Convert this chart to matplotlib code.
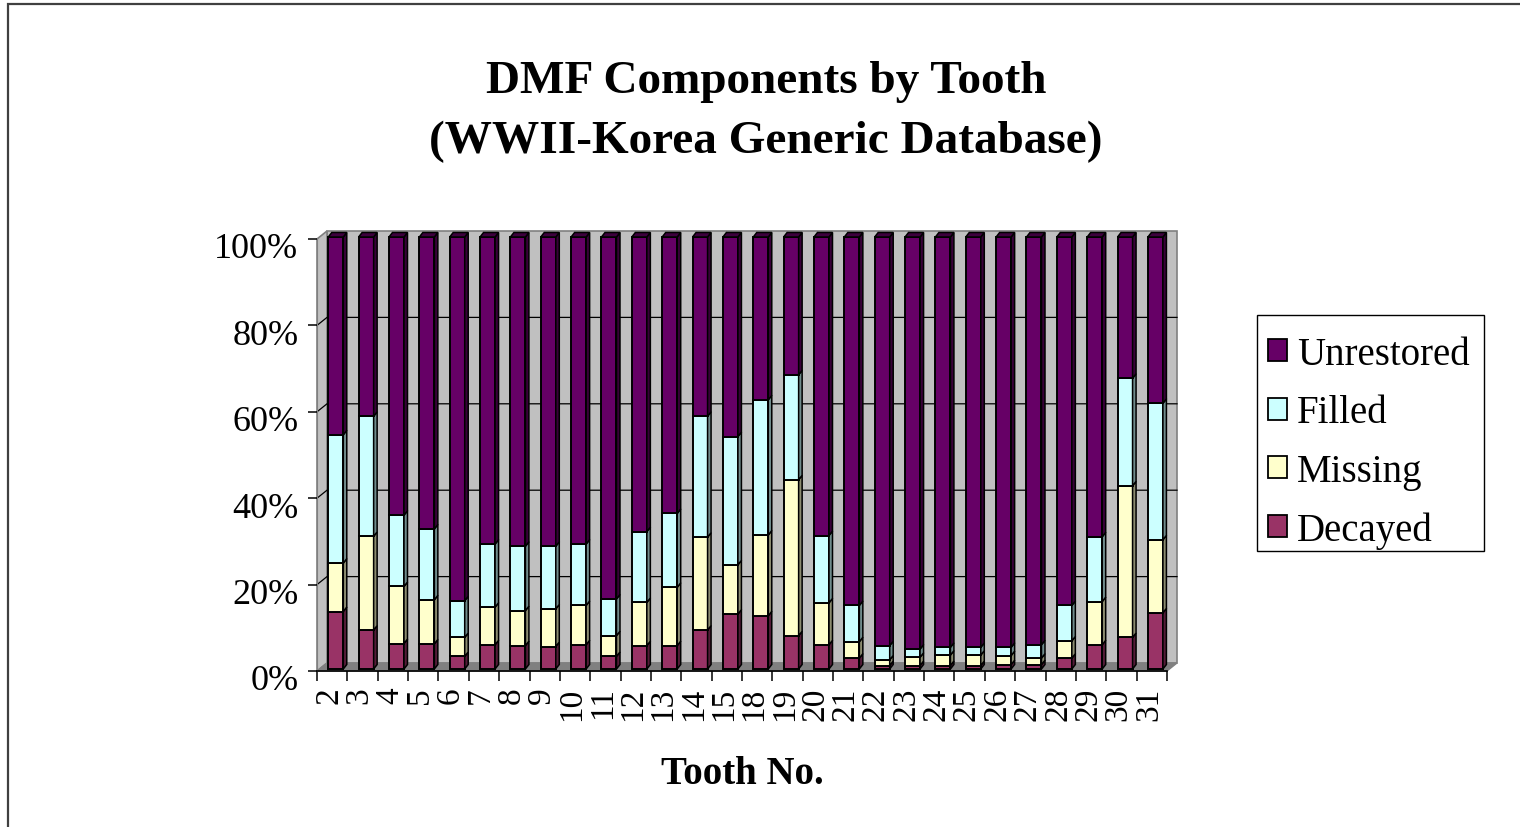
import matplotlib
matplotlib.use("Agg")
import matplotlib.pyplot as plt
import matplotlib.transforms as mtransforms
from matplotlib.patches import Polygon, Rectangle, Patch
import numpy as np

# ---- data -------------------------------------------------------------
teeth = ["2", "3", "4", "5", "6", "7", "8", "9", "10", "11", "12", "13", "14",
         "15", "18", "19", "20", "21", "22", "23", "24", "25", "26", "27", "28",
         "29", "30", "31"]
decayed = [13.3, 9.0, 5.9, 5.8, 2.9, 5.6, 5.4, 5.2, 5.6, 2.9, 5.4, 5.4, 9.0,
           12.7, 12.3, 7.7, 5.6, 2.5, 0.8, 0.8, 0.8, 0.8, 1.0, 1.0, 2.5, 5.6,
           7.3, 13.0]
missing = [11.2, 21.7, 13.2, 10.2, 4.4, 8.7, 8.1, 8.7, 9.1, 4.8, 10.0, 13.5,
           21.5, 11.4, 18.7, 36.1, 9.7, 3.8, 1.3, 1.9, 2.4, 2.4, 2.1, 1.5, 4.0,
           10.0, 35.1, 16.9]
filled = [29.7, 27.8, 16.5, 16.4, 8.5, 14.6, 14.9, 14.5, 14.2, 8.5, 16.4, 17.1,
          28.0, 29.7, 31.3, 24.3, 15.6, 8.4, 3.3, 1.9, 1.8, 1.8, 1.9, 3.1, 8.2,
          15.0, 24.9, 31.6]
unrestored = [45.8, 41.5, 64.4, 67.6, 84.2, 71.1, 71.6, 71.6, 71.1, 83.8, 68.2,
              64.0, 41.5, 46.2, 37.7, 31.9, 69.1, 85.3, 94.6, 95.4, 95.0, 95.0,
              95.0, 94.4, 85.3, 69.4, 32.7, 38.5]
series_names = ["Decayed", "Missing", "Filled", "Unrestored"]
series_colors = ["#993366", "#FFFFCC", "#CCFFFF", "#660066"]
y_ticks = [0, 20, 40, 60, 80, 100]
y_labels = ["0%", "20%", "40%", "60%", "80%", "100%"]

# ---- figure -----------------------------------------------------------
W, H = 1520, 828
fig = plt.figure(figsize=(W / 100, H / 100), dpi=100)
plt.rcParams['font.family'] = ['Liberation Serif', 'DejaVu Serif']

# outer chart border
fig.add_artist(Rectangle((8 / W, -0.5), 2.0, 0.5 + 1 - 5 / H,
                         transform=fig.transFigure, fill=False,
                         ec="#404040", lw=1.6))

# front plane of the plot area, in pixels
X0, X1 = 317, 1167
Y0, Y1 = 672, 240
ax = fig.add_axes([X0 / W, 1 - Y0 / H, (X1 - X0) / W, (Y0 - Y1) / H])
n = len(teeth)
ax.set_xlim(0, n)
ax.set_ylim(0, 100)
ax.patch.set_visible(False)
ux = (X1 - X0) / n
uy = (Y0 - Y1) / 100.0


def px(dxp, dyp):
    return dxp / ux, dyp / uy


# walls and floor of the 3-D box
wdx, wdy = px(10, 8)
wall_c, edge_c = "#C0C0C0", "#808080"
ax.add_patch(Polygon([(wdx, wdy), (n + wdx, wdy), (n + wdx, 100 + wdy),
                      (wdx, 100 + wdy)], closed=True, fc=wall_c, ec=edge_c,
                     lw=1.2, clip_on=False, zorder=0))
ax.add_patch(Polygon([(0, 0), (wdx, wdy), (wdx, 100 + wdy), (0, 100)],
                     closed=True, fc=wall_c, ec=edge_c, lw=1.2, clip_on=False,
                     zorder=0))
for v in y_ticks[1:-1]:
    ax.plot([0, wdx, n + wdx], [v, v + wdy, v + wdy], color="black", lw=0.9,
            clip_on=False, zorder=1)
ax.add_patch(Polygon([(0, 0), (n, 0), (n + wdx, wdy), (wdx, wdy)],
                     closed=True, fc="#808080", ec="#808080", lw=1.0,
                     clip_on=False, zorder=1))

# stacked 3-D columns
vals = np.array([decayed, missing, filled, unrestored], dtype=float)
pct = vals / vals.sum(axis=0) * 100
bw = 15 / ux
bx, by = px(3.6, 2)
bdx, bdy = px(3.5, 4.5)
x = np.arange(n) + 0.5 + bx
bottom = np.full(n, by)


def shade(c, f):
    rgb = np.array(matplotlib.colors.to_rgb(c))
    return tuple(rgb * f)


for name, seg, col in zip(series_names, pct, series_colors):
    ax.bar(x, seg, width=bw, bottom=bottom, color=col, edgecolor="black",
           lw=1.4, zorder=3, label=name, clip_on=False)
    for xi, b, h in zip(x, bottom, seg):
        xr = xi + bw / 2
        ax.add_patch(Polygon([(xr, b), (xr + bdx, b + bdy),
                              (xr + bdx, b + h + bdy), (xr, b + h)],
                             closed=True, fc=shade(col, 0.55), ec="black",
                             lw=1.1, clip_on=False, zorder=3))
    bottom = bottom + seg

for xi, t in zip(x, bottom):
    xl, xr = xi - bw / 2, xi + bw / 2
    ax.add_patch(Polygon([(xl, t), (xl + bdx, t + bdy), (xr + bdx, t + bdy),
                          (xr, t)], closed=True,
                         fc=shade(series_colors[-1], 0.6), ec="black",
                         lw=1.1, clip_on=False, zorder=3))

# axes, ticks and labels
for s in ["top", "right"]:
    ax.spines[s].set_visible(False)
ax.spines["left"].set_color(edge_c)
ax.spines["bottom"].set_color("black")
ax.spines["bottom"].set_linewidth(1.2)
ax.spines["bottom"].set_zorder(4)

ax.set_yticks(y_ticks)
ax.set_yticklabels(y_labels, fontsize=26)
ax.tick_params(axis="y", length=6.5, width=1.1, color="black", pad=7)
shift = mtransforms.ScaledTranslation(0, -6 / 100, fig.dpi_scale_trans)
for lab in ax.get_yticklabels():
    lab.set_transform(lab.get_transform() + shift)

ax.set_xticks(np.arange(n) + 0.5)
ax.set_xticklabels(teeth, rotation=90, fontsize=24)
ax.set_xticks(np.arange(n + 1), minor=True)
ax.tick_params(axis="x", which="major", length=0, pad=11)
ax.tick_params(axis="x", which="minor", length=7, width=1.1, color="black")
xshift = mtransforms.ScaledTranslation(-3 / 100, 0, fig.dpi_scale_trans)
for lab in ax.get_xticklabels():
    lab.set_transform(lab.get_transform() + xshift)

fig.text(742 / W, 1 - 775 / H, "Tooth No.", ha="center", va="center",
         fontsize=28, fontweight="bold")
fig.text(766 / W, 1 - 112 / H,
         "DMF Components by Tooth\n(WWII-Korea Generic Database)",
         ha="center", va="center", fontsize=34, fontweight="bold",
         linespacing=1.55)

# legend, top series first, inside its own box
fig.add_artist(Rectangle((1257 / W, 1 - 552 / H), (1484 - 1257) / W,
                         (552 - 316) / H, transform=fig.transFigure,
                         fc="white", ec="black", lw=1.0, zorder=2))
handles = [Patch(fc=c, ec="black", lw=1.3) for c in series_colors[::-1]]
leg = fig.legend(handles, series_names[::-1], loc="upper left",
                 bbox_to_anchor=(1268 / W, 1 - 337 / H), fontsize=28,
                 frameon=False, handlelength=0.5, handleheight=0.5,
                 handletextpad=0.25, labelspacing=0.55, borderpad=0,
                 borderaxespad=0)
leg.set_zorder(3)

fig.savefig("out.png", dpi=100)
